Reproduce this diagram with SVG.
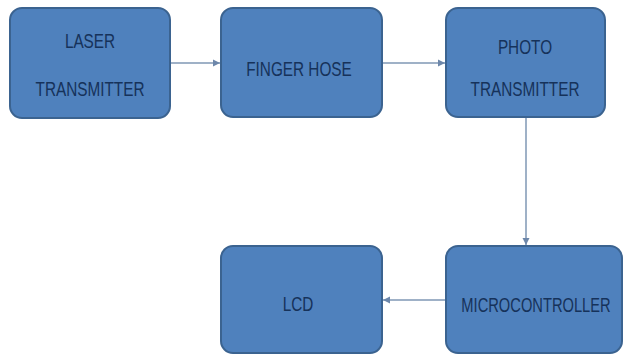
<svg xmlns="http://www.w3.org/2000/svg" width="626" height="355" viewBox="0 0 626 355">
<style>
.box{fill:#4f81bd;stroke:#3b6390;stroke-width:2}
.t{font-family:"Liberation Sans",Arial,sans-serif;font-size:21px;fill:#16325a;text-anchor:middle}
.c{stroke:#7f97b5;stroke-width:1.5;fill:none}
</style>
<defs>
<marker id="ah" markerWidth="8" markerHeight="8" refX="7" refY="4" orient="auto" markerUnits="userSpaceOnUse">
<path d="M0,0.5 L7,4 L0,7.5 Z" fill="#6d87aa"/>
</marker>
</defs>
<rect width="626" height="355" fill="#ffffff"/>
<g id="laser">
<rect class="box" x="10" y="8" width="160" height="110" rx="12"/>
<text class="t" transform="translate(90,48) scale(0.73,1)">LASER</text>
<text class="t" transform="translate(90,96) scale(0.73,1)">TRANSMITTER</text>
</g>
<g id="finger">
<rect class="box" x="221" y="8" width="161" height="109" rx="12"/>
<text class="t" transform="translate(299,76) scale(0.73,1)">FINGER HOSE</text>
</g>
<g id="photo">
<rect class="box" x="446" y="8" width="159" height="109" rx="12"/>
<text class="t" transform="translate(525,54) scale(0.73,1)">PHOTO</text>
<text class="t" transform="translate(525,96) scale(0.73,1)">TRANSMITTER</text>
</g>
<g id="lcd">
<rect class="box" x="221" y="246" width="161" height="107" rx="12"/>
<text class="t" transform="translate(298,311) scale(0.73,1)">LCD</text>
</g>
<g id="micro">
<rect class="box" x="446" y="246" width="176" height="107" rx="12"/>
<text class="t" transform="translate(536,312) scale(0.7,1)">MICROCONTROLLER</text>
</g>
<g id="connectors">
<line class="c" x1="171" y1="63" x2="220" y2="63" marker-end="url(#ah)"/>
<line class="c" x1="383" y1="63" x2="445" y2="63" marker-end="url(#ah)"/>
<line class="c" x1="526" y1="118" x2="526" y2="245" marker-end="url(#ah)"/>
<line class="c" x1="445" y1="300" x2="383" y2="300" marker-end="url(#ah)"/>
</g>
</svg>
